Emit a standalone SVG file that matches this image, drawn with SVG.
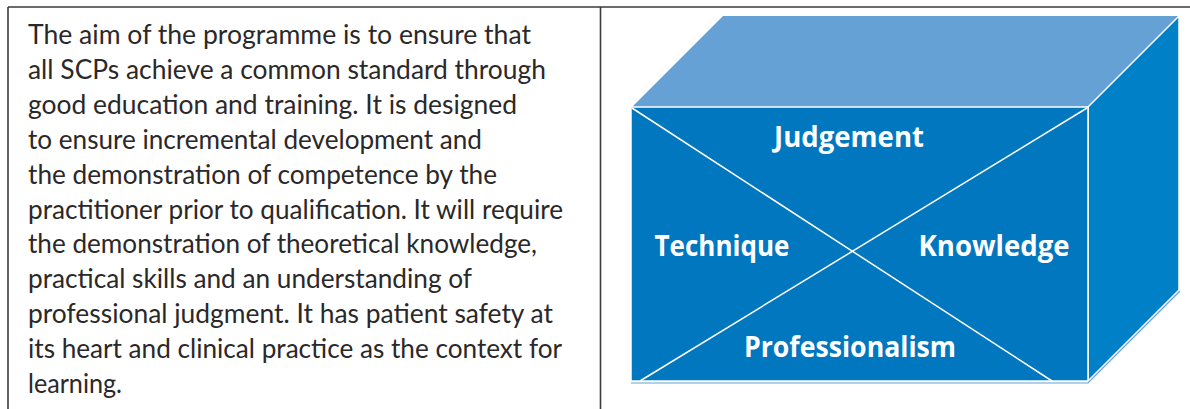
<svg xmlns="http://www.w3.org/2000/svg" width="1190" height="409" viewBox="0 0 1190 409">
<style>
.frame{stroke:#3a3a3a;stroke-width:1.6;fill:none}
.body{font-family:Lato,"Liberation Sans",sans-serif;font-weight:400;font-size:26px;fill:#2b2829}
.lbl{font-family:"Open Sans","Liberation Sans",sans-serif;font-weight:bold;font-size:29px;fill:#ffffff;text-anchor:middle}
.edge{stroke:#ffffff;stroke-width:1.5}
.line{stroke:#ffffff;stroke-width:1.5;fill:none}
</style>
<rect width="1190" height="409" fill="#ffffff"/>
<g id="table">
<line class="frame" x1="8" y1="7" x2="1190" y2="7"/>
<line class="frame" x1="8" y1="7" x2="8" y2="409"/>
<line class="frame" x1="600.5" y1="7" x2="600.5" y2="409"/>
</g>
<g id="text-block" class="body">
<text x="28" y="44" textLength="503" lengthAdjust="spacingAndGlyphs">The aim of the programme is to ensure that</text>
<text x="28" y="78.9" textLength="518" lengthAdjust="spacingAndGlyphs">all SCPs achieve a common standard through</text>
<text x="28" y="113.8" textLength="489" lengthAdjust="spacingAndGlyphs">good education and training. It is designed</text>
<text x="28" y="148.7" textLength="454" lengthAdjust="spacingAndGlyphs">to ensure incremental development and</text>
<text x="28" y="183.6" textLength="469" lengthAdjust="spacingAndGlyphs">the demonstration of competence by the</text>
<text x="28" y="218.5" textLength="535" lengthAdjust="spacingAndGlyphs">practitioner prior to qualification. It will require</text>
<text x="28" y="253.4" textLength="509" lengthAdjust="spacingAndGlyphs">the demonstration of theoretical knowledge,</text>
<text x="28" y="288.3" textLength="444" lengthAdjust="spacingAndGlyphs">practical skills and an understanding of</text>
<text x="28" y="323.2" textLength="525" lengthAdjust="spacingAndGlyphs">professional judgment. It has patient safety at</text>
<text x="28" y="358.1" textLength="534" lengthAdjust="spacingAndGlyphs">its heart and clinical practice as the context for</text>
<text x="28" y="393" textLength="94" lengthAdjust="spacingAndGlyphs">learning.</text>
</g>
<g id="cube">
<polygon points="632,107 723,16 1179,16 1088,107" fill="#65a1d5"/>
<polygon class="edge" points="1088,107 1179,16 1179,290 1088,381" fill="#0080c6"/>
<rect class="edge" x="631" y="107" width="457" height="274" fill="#0077bf"/>
<polyline points="631,383 1088,383 1180,291" fill="none" stroke="#65a1d5" stroke-width="1.2"/>
</g>
<g id="connectors">
<line class="line" x1="632" y1="108" x2="1052" y2="381"/>
<line class="line" x1="1087" y1="108" x2="640" y2="381"/>
</g>
<g id="node-judgement"><text class="lbl" x="849" y="147" textLength="150" lengthAdjust="spacingAndGlyphs">Judgement</text></g>
<g id="node-technique"><text class="lbl" x="722" y="256" textLength="135" lengthAdjust="spacingAndGlyphs">Technique</text></g>
<g id="node-knowledge"><text class="lbl" x="994" y="256" textLength="151" lengthAdjust="spacingAndGlyphs">Knowledge</text></g>
<g id="node-professionalism"><text class="lbl" x="850" y="357" textLength="212" lengthAdjust="spacingAndGlyphs">Professionalism</text></g>
</svg>
